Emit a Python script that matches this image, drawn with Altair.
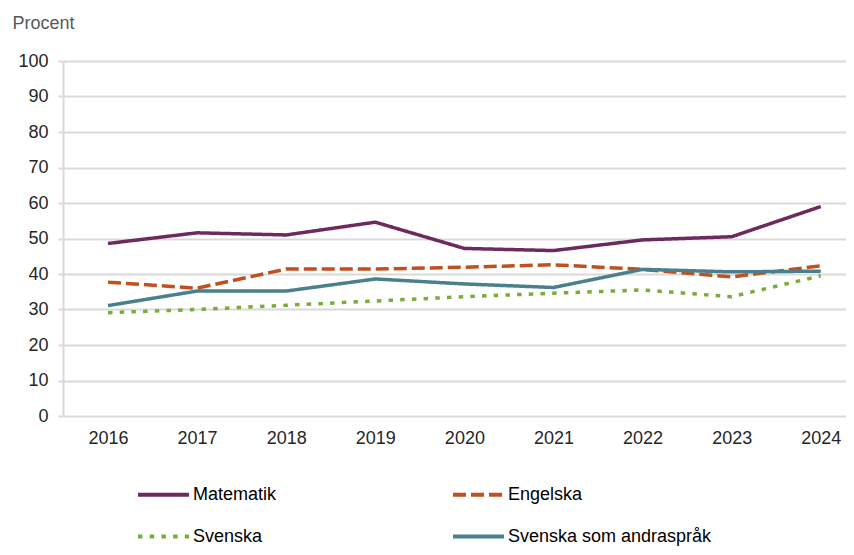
import altair as alt
import pandas as pd

years = [2016, 2017, 2018, 2019, 2020, 2021, 2022, 2023, 2024]
series_names = ["Matematik", "Engelska", "Svenska", "Svenska som andraspråk"]
matematik = [48.6, 51.6, 51.0, 54.6, 47.2, 46.6, 49.6, 50.5, 59.0]
engelska = [37.7, 36.0, 41.4, 41.4, 41.9, 42.6, 41.3, 39.2, 42.3]
svenska = [29.1, 30.0, 31.2, 32.4, 33.6, 34.6, 35.5, 33.6, 39.5]
svenska_andra = [31.1, 35.2, 35.2, 38.6, 37.2, 36.2, 41.3, 40.6, 40.8]
y_ticks = [0, 10, 20, 30, 40, 50, 60, 70, 80, 90, 100]

colors = ["#6E2A5F", "#C0501F", "#7BAB3C", "#4A7F8C"]
dashes = [[1, 0], [13, 5], [4.5, 7.2], [1, 0]]

rows = []
for name, vals in zip(series_names, [matematik, engelska, svenska, svenska_andra]):
    for yr, v in zip(years, vals):
        rows.append({"År": yr, "Procent": v, "Ämne": name})
df = pd.DataFrame(rows)

FONT = "Liberation Sans"
FS = 18

chart = alt.Chart(df).mark_line(strokeWidth=3.5).encode(
    x=alt.X("År:Q",
            scale=alt.Scale(domain=[2015.495, 2024.283], nice=False, zero=False),
            axis=alt.Axis(values=years, format="d", title=None, grid=False,
                          domain=False, ticks=False, labelFontSize=FS,
                          labelPadding=13, labelColor="#262626", labelFont=FONT)),
    y=alt.Y("Procent:Q",
            scale=alt.Scale(domain=[0, 100], nice=False),
            axis=alt.Axis(values=y_ticks, title="Procent", titleAngle=0,
                          titleAlign="left", titleBaseline="alphabetic",
                          titleX=-51, titleY=-33, titleFontSize=FS,
                          titleFontWeight="normal", titleColor="#595959",
                          titleFont=FONT,
                          labelFontSize=FS, labelColor="#262626", labelFont=FONT,
                          labelPadding=10, tickSize=5, tickColor="#D9D9D9",
                          tickWidth=2, domainColor="#D9D9D9", domainWidth=2,
                          gridColor="#D9D9D9", gridWidth=2)),
    color=alt.Color("Ämne:N",
                    scale=alt.Scale(domain=series_names, range=colors),
                    sort=series_names,
                    legend=alt.Legend(title=None, orient="none", legendX=73,
                                      legendY=406, columns=2, direction="horizontal",
                                      symbolType="stroke", symbolSize=2601,
                                      symbolStrokeWidth=4, labelFontSize=FS,
                                      labelFont=FONT, labelColor="#000000",
                                      labelOffset=2, labelLimit=400,
                                      columnPadding=168,
                                      rowPadding=5, padding=0)),
    strokeDash=alt.StrokeDash("Ämne:N",
                              scale=alt.Scale(domain=series_names, range=dashes),
                              sort=series_names, legend=None),
).properties(
    width=783, height=355,
    autosize=alt.AutoSizeParams(type="none"),
    padding={"left": 55, "top": 53, "right": 0, "bottom": 131},
).configure_view(stroke=None).configure_axis(labelFont=FONT)

chart.save("out.html", embed_options={"renderer": "svg", "actions": False})
